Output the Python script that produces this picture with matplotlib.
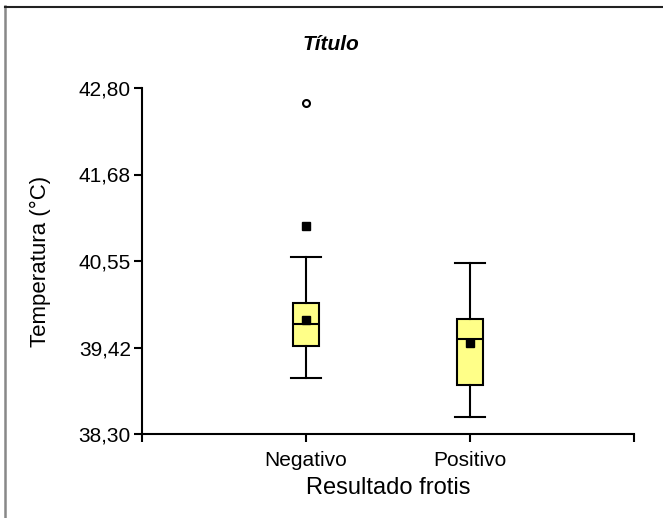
import matplotlib
matplotlib.use("Agg")
import matplotlib.pyplot as plt
from matplotlib.lines import Line2D

plt.rcParams['font.family'] = ['Liberation Sans', 'DejaVu Sans']

categories = ["Negativo", "Positivo"]
whisker_low = [39.03, 38.52]
q1 = [39.44, 38.94]
median = [39.73, 39.53]
q3 = [40.01, 39.80]
whisker_high = [40.60, 40.52]
means = [39.78, 39.48]
# points beyond whiskers
sq_outlier_x = ["Negativo"]
sq_outlier_y = [41.00]
circ_outlier_x = ["Negativo"]
circ_outlier_y = [42.60]

y_ticks = [38.30, 39.425, 40.55, 41.675, 42.80]
y_ticklabels = ["38,30", "39,42", "40,55", "41,68", "42,80"]

fig = plt.figure(figsize=(6.63, 5.18), dpi=100)
ax = fig.add_axes([142/663, 1-434/518, (634-142)/663, (434-88)/518])

positions = list(range(1, len(categories)+1))
stats = []
for i, c in enumerate(categories):
    stats.append(dict(label=c, whislo=whisker_low[i], q1=q1[i], med=median[i],
                      q3=q3[i], whishi=whisker_high[i], mean=means[i], fliers=[]))

lw = 1.5
ax.bxp(stats, positions=positions, widths=0.16, capwidths=0.18, patch_artist=True,
       showmeans=True, showfliers=False,
       boxprops=dict(facecolor="#ffff88", edgecolor="black", linewidth=lw),
       medianprops=dict(color="black", linewidth=lw),
       whiskerprops=dict(color="black", linewidth=lw),
       capprops=dict(color="black", linewidth=lw),
       meanprops=dict(marker="s", markerfacecolor="black", markeredgecolor="black", markersize=6),
       zorder=3)

pos_map = {c: p for c, p in zip(categories, positions)}
ax.plot([pos_map[c] for c in sq_outlier_x], sq_outlier_y, linestyle="none", marker="s",
        markersize=6, markerfacecolor="black", markeredgecolor="black", zorder=4)
ax.plot([pos_map[c] for c in circ_outlier_x], circ_outlier_y, linestyle="none", marker="o",
        markersize=5, markerfacecolor="white", markeredgecolor="black", markeredgewidth=1.5, zorder=4)

ax.set_xlim(0, 3)
ax.set_ylim(38.30, 42.80)
ax.set_xticks([0, 1, 2, 3])
ax.set_xticklabels(["", "Negativo", "Positivo", ""], fontsize=15)
ax.set_yticks(y_ticks)
ax.set_yticklabels(y_ticklabels, fontsize=15)
ax.tick_params(axis="both", direction="out", length=6, width=1.5, color="black")
ax.tick_params(axis="x", pad=6)
ax.tick_params(axis="y", pad=2)
for s in ["top", "right"]:
    ax.spines[s].set_visible(False)
for s in ["left", "bottom"]:
    ax.spines[s].set_linewidth(1.5)

ax.set_xlabel("Resultado frotis", fontsize=17, labelpad=5)
ax.set_ylabel("Temperatura (°C)", fontsize=16, labelpad=20)
fig.text(331/663, 1-45/518, "Título", fontsize=15, fontweight="bold", fontstyle="italic",
         ha="center", va="center")

# outer frame lines (left gray, top dark)
fig.add_artist(Line2D([4.5/663, 4.5/663], [0, 1-6/518], transform=fig.transFigure,
                      color="#888888", linewidth=1.8))
fig.add_artist(Line2D([4.5/663, 1], [1-7/518, 1-7/518], transform=fig.transFigure,
                      color="#222222", linewidth=1.5))

fig.savefig("out.png", dpi=100)
